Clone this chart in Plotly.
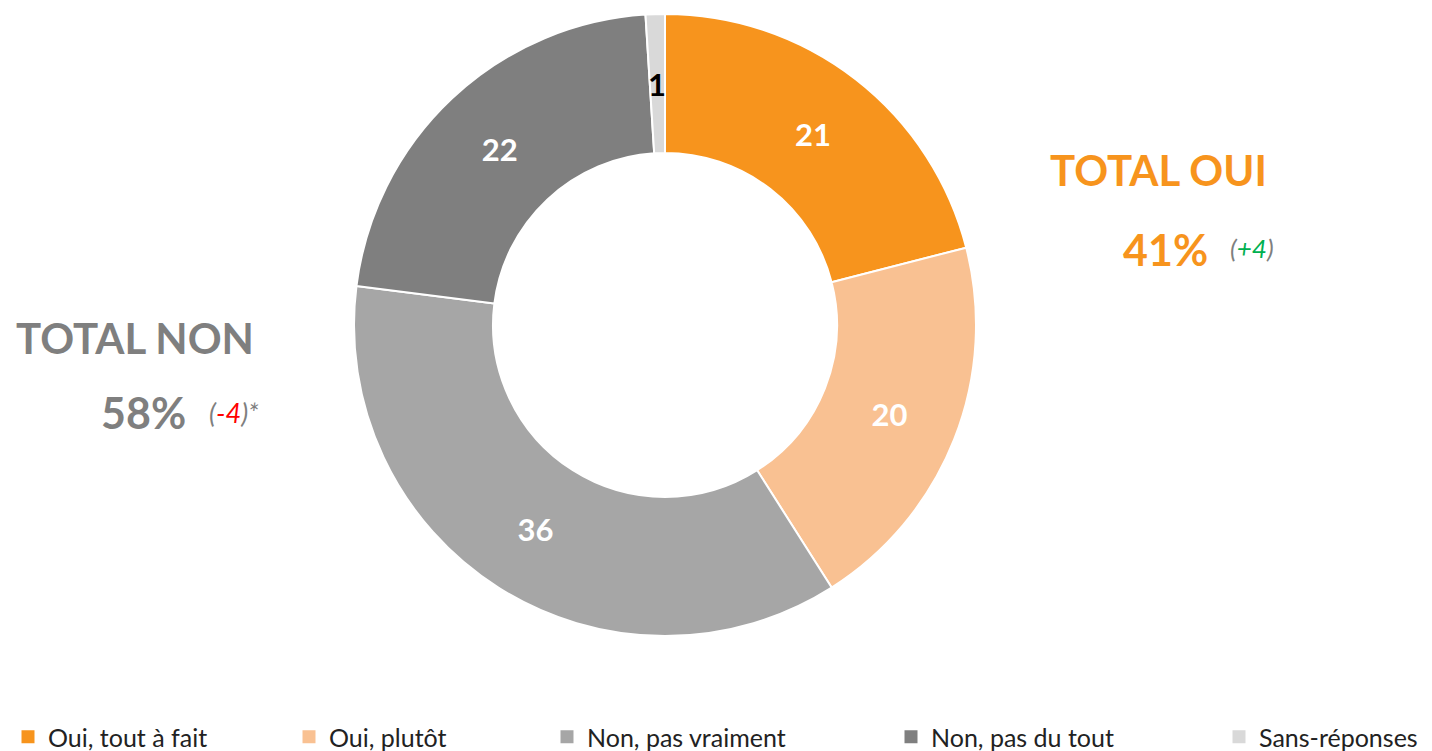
import math
import plotly.graph_objects as go

categories = ["Oui, tout à fait", "Oui, plutôt", "Non, pas vraiment", "Non, pas du tout", "Sans-réponses"]
values = [21, 20, 36, 22, 1]
colors = ["#F7941D", "#F9C192", "#A6A6A6", "#7F7F7F", "#D9D9D9"]
label_colors = ["white", "white", "white", "white", "black"]

total_oui = "41%"
evol_oui = "+4"
total_non = "58%"
evol_non = "-4"

W, H = 1432, 751
FONT = "Lato, Calibri, Arial, sans-serif"
HOLE = 0.553
OFF = 8  # page body margin in the browser

def px(x):
    return (x - OFF) / W

def py(y):
    return 1 - (y - OFF) / H

cx, cy, R = 665, 325, 311

# small slices get their label drawn as an annotation computed from the data
small = [v < 3 for v in values]
texttemplates = ["" if s else "%{value}" for s in small]

fig = go.Figure()
fig.add_trace(go.Pie(
    labels=categories,
    values=values,
    marker=dict(colors=colors, line=dict(color="white", width=2)),
    hole=HOLE,
    sort=False,
    direction="clockwise",
    rotation=0,
    texttemplate=texttemplates,
    textposition="inside",
    insidetextorientation="horizontal",
    textfont=dict(family=FONT, size=31, color=label_colors, weight="bold"),
    domain=dict(x=[px(cx - R), px(cx + R)], y=[py(cy + R), py(cy - R)]),
    hoverinfo="label+value",
    showlegend=False,
))

# legend entries (one legend per entry to reproduce the original spacing)
legend_x_px = [-11, 289, 547, 891, 1219]
legend_layouts = {}
for i, (cat, col) in enumerate(zip(categories, colors)):
    lname = "legend" if i == 0 else f"legend{i + 1}"
    fig.add_trace(go.Scatter(
        x=[None], y=[None], mode="markers", name=cat,
        marker=dict(symbol="square", size=13, color=col),
        legend=lname, showlegend=True, hoverinfo="skip",
    ))
    legend_layouts[lname] = dict(
        orientation="h",
        x=px(legend_x_px[i]), xanchor="left", xref="container",
        y=py(737), yanchor="middle", yref="container",
        font=dict(family=FONT, size=25, color="#222222"),
        bgcolor="rgba(0,0,0,0)",
        itemclick=False, itemdoubleclick=False,
    )

fig.update_layout(
    width=W, height=H,
    margin=dict(l=0, r=0, t=0, b=0, autoexpand=False),
    paper_bgcolor="white",
    plot_bgcolor="white",
    font=dict(family=FONT),
    showlegend=True,
    xaxis=dict(visible=False),
    yaxis=dict(visible=False),
    **legend_layouts,
)

ann = []
# label for small slices, placed at the middle of the ring
cum = 0
total = sum(values)
for v, s, lc in zip(values, small, label_colors):
    mid = (cum + v / 2) / total
    cum += v
    if not s:
        continue
    theta = 2 * math.pi * mid
    rmid = R * (1 + HOLE) / 2
    ann.append(dict(text=f"<b>{v}</b>", x=px(cx + rmid * math.sin(theta)), y=py(cy - rmid * math.cos(theta)),
                    font=dict(size=31, color=lc, family=FONT)))

# TOTAL OUI
ann.append(dict(text="<b>TOTAL OUI</b>", x=px(1158), y=py(170), font=dict(size=42, color="#F7941D", family=FONT)))
ann.append(dict(text="<b>" + total_oui + "</b>", x=px(1165), y=py(249), font=dict(size=43, color="#F7941D", family=FONT)))
ann.append(dict(text="<i>(<span style='color:#00B050'>" + evol_oui + "</span>)</i>", x=px(1252), y=py(248),
                font=dict(size=26, color="#7F7F7F", family=FONT)))
# TOTAL NON
ann.append(dict(text="<b>TOTAL NON</b>", x=px(135), y=py(338), font=dict(size=42, color="#7F7F7F", family=FONT)))
ann.append(dict(text="<b>" + total_non + "</b>", x=px(143), y=py(413), font=dict(size=43, color="#7F7F7F", family=FONT)))
ann.append(dict(text="<i>(<span style='color:#FF0000'>" + evol_non + "</span>)*</i>", x=px(234), y=py(412),
                font=dict(size=27, color="#7F7F7F", family=FONT)))
for a in ann:
    a.update(xref="paper", yref="paper", showarrow=False, xanchor="center", yanchor="middle")
fig.update_layout(annotations=ann)

fig.write_html("out.html")
